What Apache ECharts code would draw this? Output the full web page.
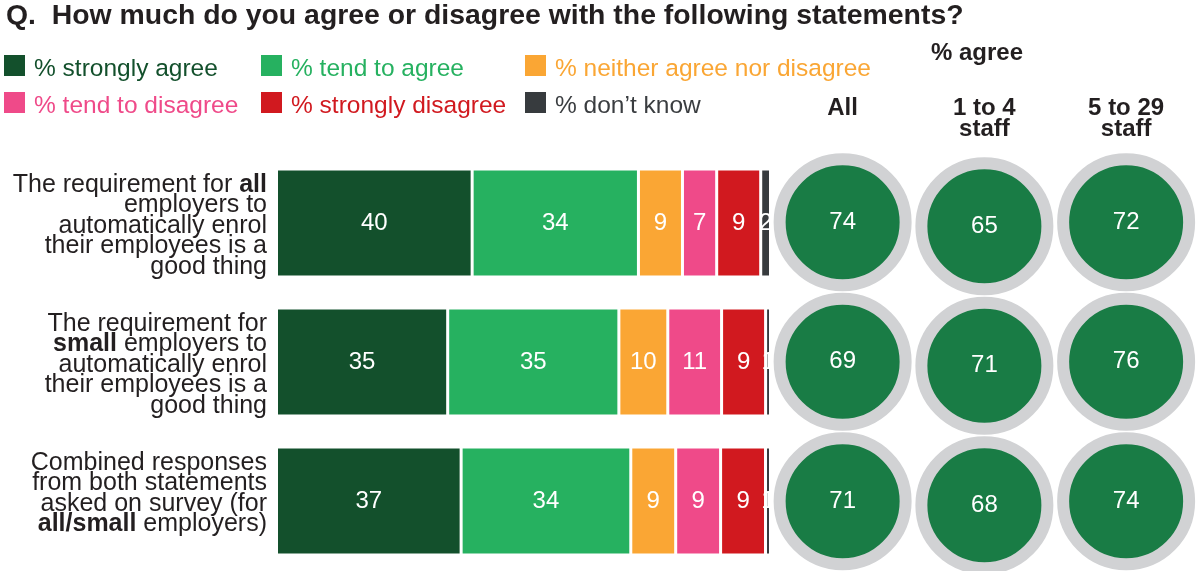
<!DOCTYPE html>
<html><head><meta charset="utf-8">
<script src="https://cdn.jsdelivr.net/npm/echarts@6/dist/echarts.min.js"></script>
<style>html,body{margin:0;padding:0;background:#fff}#c{width:1197px;height:571px}</style>
</head><body><div id="c"></div>
<script>
const FONT = '"Liberation Sans", Arial, Helvetica, sans-serif';
const titleText = 'Q.  How much do you agree or disagree with the following statements?';
const agreeHeader = '% agree';
const rowIds = ['all', 'small', 'combined'];
const rowLabels = [
  'The requirement for {b|all}\nemployers to\nautomatically enrol\ntheir employees is a\ngood thing',
  'The requirement for\n{b|small} employers to\nautomatically enrol\ntheir employees is a\ngood thing',
  'Combined responses\nfrom both statements\nasked on survey (for\n{b|all/small} employers)'
];
const seriesNames = ['% strongly agree', '% tend to agree', '% neither agree nor disagree',
                     '% tend to disagree', '% strongly disagree', '% don\u2019t know'];
const stronglyAgree    = [40, 35, 37];
const tendAgree        = [34, 35, 34];
const neither          = [9, 10, 9];
const tendDisagree     = [7, 11, 9];
const stronglyDisagree = [9, 9, 9];
const dontKnow         = [2, 1, 1];
const colLabels = ['All', '1 to 4\nstaff', '5 to 29\nstaff'];
const agreeAll    = [74, 69, 71];
const agree1to4   = [65, 71, 68];
const agree5to29  = [72, 76, 74];

const barColors = ['#13502c', '#26b160', '#faa634', '#ef4a89', '#d1191f', '#373b3e'];
const textColors = ['#13502c', '#26b160', '#faa634', '#ef4a89', '#d1191f', '#3a3d40'];
const circleFill = '#197c45', ringColor = '#d1d2d4', ink = '#231f20';

const values = [stronglyAgree, tendAgree, neither, tendDisagree, stronglyDisagree, dontKnow];
const totals = rowIds.map((_, i) => values.reduce((s, a) => s + a[i], 0));
const agreeCols = [agreeAll, agree1to4, agree5to29];

const barSeries = values.map((arr, k) => ({
  type: 'bar', name: seriesNames[k], stack: 'resp', xAxisIndex: 0, yAxisIndex: 0,
  barWidth: 108, silent: true,
  itemStyle: { color: barColors[k], borderColor: '#fff', borderWidth: 1.5 },
  label: { show: true, position: 'inside', color: '#fff', fontSize: 24, fontFamily: FONT,
           formatter: p => String(p.data.raw) },
  data: arr.map((v, i) => ({ value: v / totals[i] * 100, raw: v }))
}));

const circleSeries = agreeCols.map((arr, c) => ({
  type: 'scatter', xAxisIndex: 1, yAxisIndex: 1, silent: true,
  symbol: 'circle', symbolSize: 126, symbolOffset: c === 1 ? [0, 4] : [0, 0],
  itemStyle: { color: circleFill, borderColor: ringColor, borderWidth: 12, opacity: 1 },
  label: { show: true, position: 'inside', color: '#fff', fontSize: 24, fontFamily: FONT,
           formatter: p => String(p.value[2]) },
  data: rowIds.map((r, i) => [colLabels[c], r, arr[i]])
}));

// square icon sitting at the top of a 21x29 item box, so the text sits a little lower
const squareIcon = 'path://M0,0L21,0L21,21L0,21ZM0,29L0.01,29';
const legends = [0, 1, 2].map(c => ({
  orient: 'vertical', left: [4, 261, 525][c], top: 55, padding: 0,
  itemWidth: 21, itemHeight: 29, itemGap: 8, icon: squareIcon, selectedMode: false,
  itemStyle: { borderWidth: 0 },
  textStyle: { fontSize: 24.5, lineHeight: 24, fontFamily: FONT, padding: [0, 0, 0, 4] },
  data: [c, c + 3].map(k => ({ name: seriesNames[k], textStyle: { color: textColors[k] } }))
}));

const chart = echarts.init(document.getElementById('c'), null, { renderer: 'canvas' });
chart.setOption({
  animation: false,
  backgroundColor: '#fff',
  title: { text: titleText, left: 6, top: 2, padding: 0,
           textStyle: { fontSize: 28.4, fontWeight: 'bold', color: ink, fontFamily: FONT } },
  legend: legends,
  graphic: [{ type: 'text', x: 977, y: 53, silent: true,
              style: { text: agreeHeader, fill: ink, font: 'bold 24px ' + FONT,
                       align: 'center', verticalAlign: 'middle' } }],
  grid: [
    { left: 276.5, width: 494, top: 153.5, height: 417 },
    { left: 771.75, width: 430.5, top: 152.5, height: 423 }
  ],
  xAxis: [
    { type: 'value', gridIndex: 0, min: 0, max: 100, show: false },
    { type: 'category', gridIndex: 1, data: colLabels, position: 'top',
      axisLine: { show: false }, axisTick: { show: false }, splitLine: { show: false },
      axisLabel: { interval: 0, margin: 55, verticalAlign: 'top', fontSize: 24, fontWeight: 'bold',
                   lineHeight: 21, color: ink, fontFamily: FONT } }
  ],
  yAxis: [
    { type: 'category', gridIndex: 0, data: rowIds, inverse: true,
      axisLine: { show: false }, axisTick: { show: false }, splitLine: { show: false },
      axisLabel: { interval: 0, margin: 9.5, align: 'right', fontSize: 25, lineHeight: 20.5,
                   color: ink, fontFamily: FONT, padding: [6, 0, 0, 0],
                   formatter: (v, i) => {
                     const s = rowLabels[i];
                     const n = s.split('\n').length;
                     return s + '\n '.repeat(Math.max(0, 5 - n));
                   },
                   rich: { b: { fontWeight: 'bold', fontSize: 25, lineHeight: 20.5, color: ink, fontFamily: FONT } } } },
    { type: 'category', gridIndex: 1, data: rowIds, inverse: true, show: false }
  ],
  series: barSeries.concat(circleSeries)
});
</script>
</body></html>
